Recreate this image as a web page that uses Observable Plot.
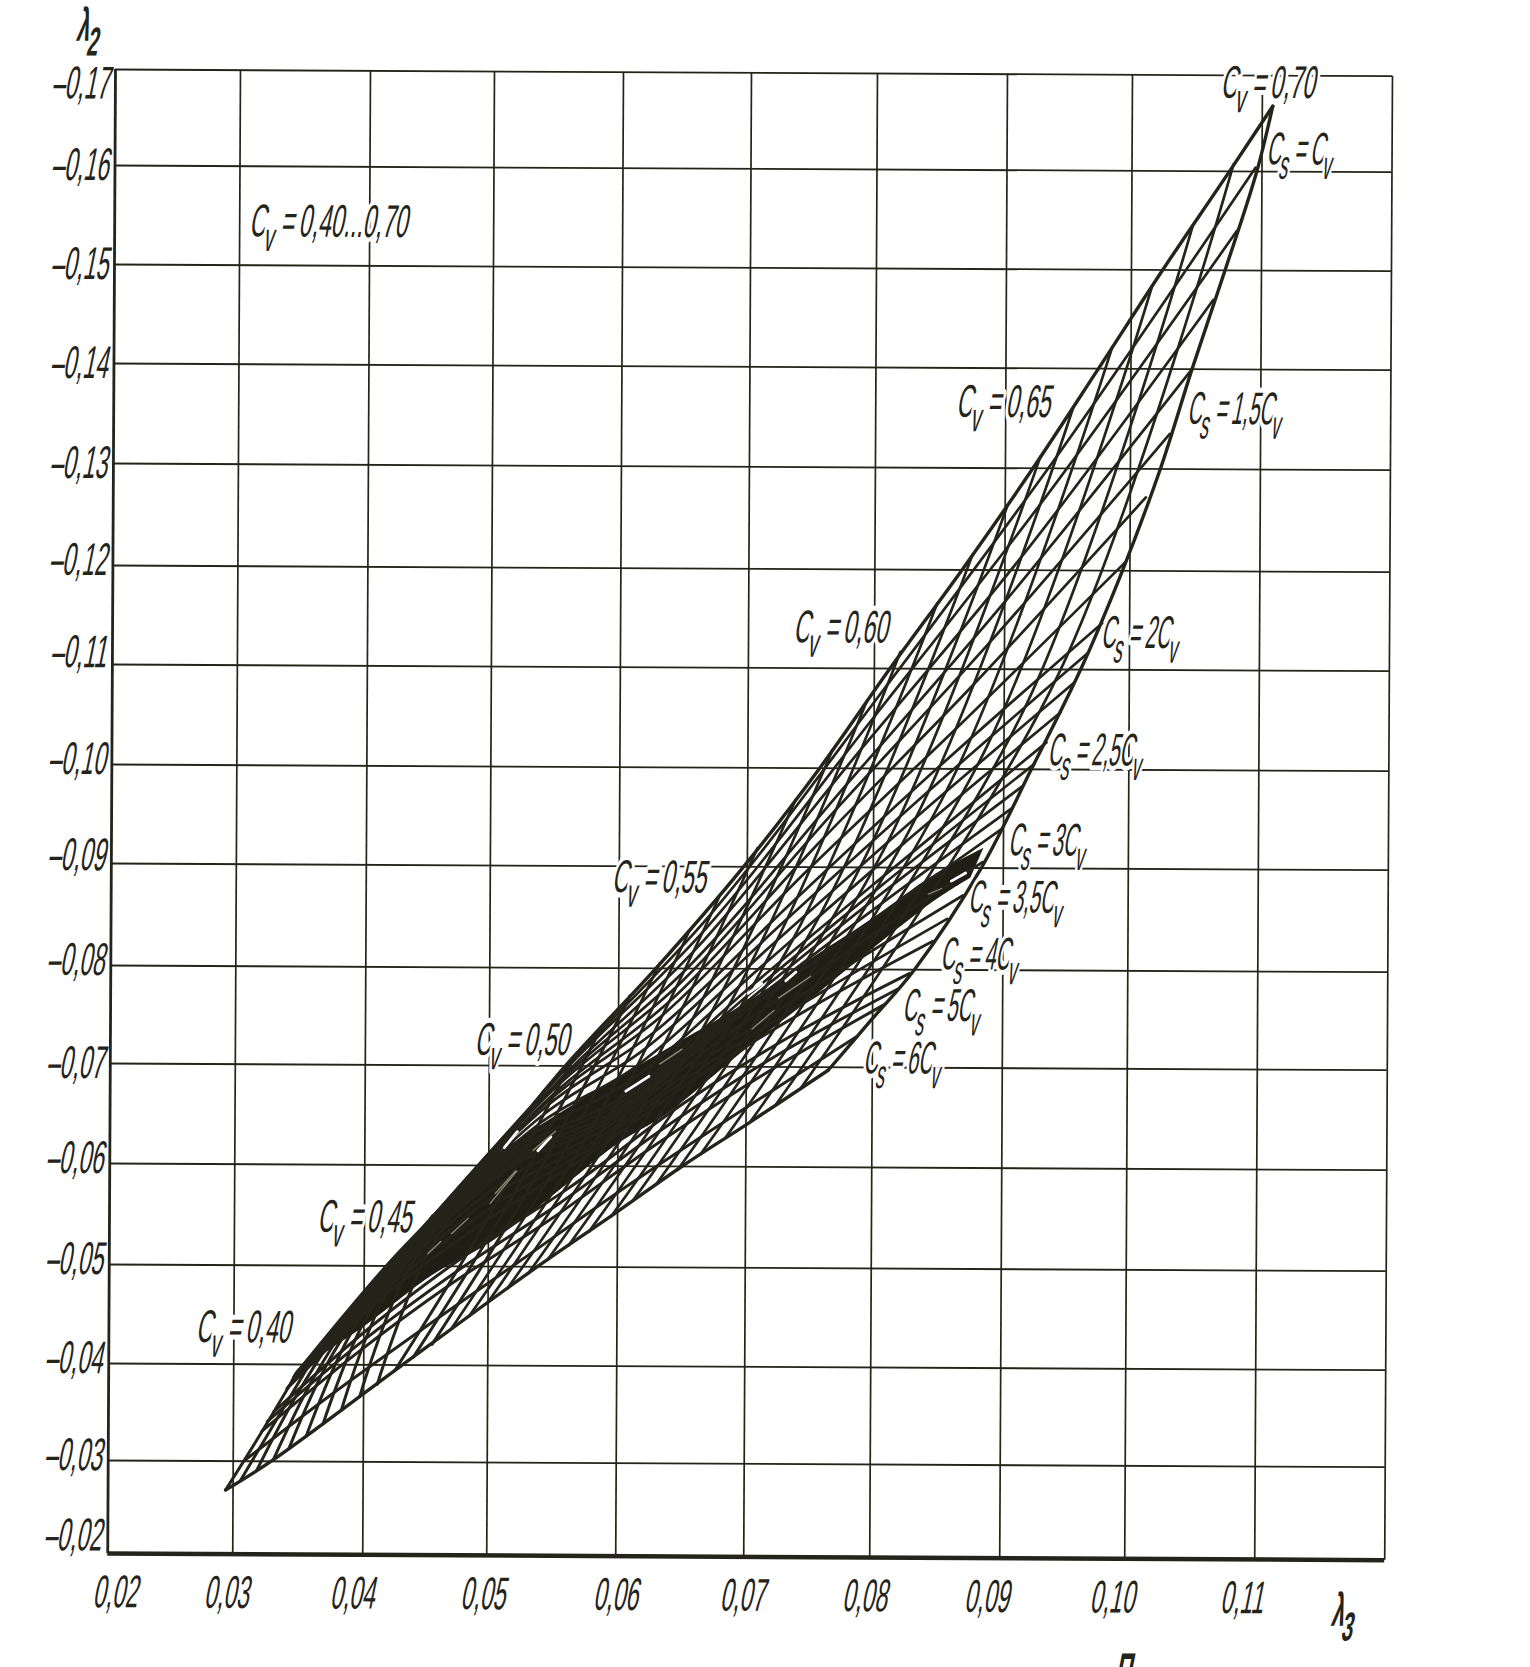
<!DOCTYPE html>
<html><head><meta charset="utf-8">
<script src="https://cdn.jsdelivr.net/npm/d3@7"></script>
<script src="https://cdn.jsdelivr.net/npm/@observablehq/plot@0.6"></script>
<style>
html,body{margin:0;padding:0;background:#fff;overflow:hidden}
svg{display:block;background:transparent;transform:rotate(.3deg);transform-origin:115px 69px}
</style></head><body><div id="chart"></div>
<script>
// grid values and the hand-drawn positions of the gridlines
const lam3Ticks=[.02,.03,.04,.05,.06,.07,.08,.09,.10,.11,.12];
const lam2Ticks=[-.17,-.16,-.15,-.14,-.13,-.12,-.11,-.10,-.09,-.08,-.07,-.06,-.05,-.04,-.03,-.02];
const lam3Pixels=[115,240,370,494,623,751,877,1007,1132,1262,1392];
const lam2Pixels=[69,165,264,363,463,565,664,764,863,965,1063,1163,1264,1363,1460,1553];
const yTickText=["–0,17","–0,16","–0,15","–0,14","–0,13","–0,12","–0,11","–0,10","–0,09","–0,08","–0,07","–0,06","–0,05","–0,04","–0,03","–0,02"];
const yTickAt=[-.1685,-.16,-.15,-.14,-.13,-.1205,-.1112,-.1005,-.0908,-.0805,-.07,-.0605,-.0505,-.0405,-.0305,-.0219];
const xTickText=["0,02","0,03","0,04","0,05","0,06","0,07","0,08","0,09","0,10","0,11"];
const xTickAt=[.0208,.0297,.0394,.0499,.0602,.0701,.0798,.0892,.0992,.1092];

// Cs = Cv : upper edge of the net
const upperEdge=[[.0349,-.0392],[.0418,-.05],[.0495,-.06],[.0559,-.07],[.0629,-.08],[.0697,-.09],[.0757,-.10],[.0812,-.11],[.0867,-.12],[.0922,-.13],[.0974,-.14],[.1024,-.15],[.1075,-.16],[.1108,-.1668]];
// Cs curves, read at Cv = .40 .45 .50 .55 .60 .65 .70
const cs112=[[.0349,-.0392],[.0455,-.0549],[.0563,-.0703],[.0672,-.0854],[.0809,-.1082],[.0941,-.1312],[.1095,-.1604]];
const cs125=[[.0349,-.0392],[.0454,-.0548],[.0561,-.0699],[.0667,-.0838],[.0799,-.1050],[.0930,-.1268],[.1081,-.1540]];
const cs137=[[.0349,-.0392],[.0454,-.0547],[.0559,-.0692],[.0660,-.0819],[.0789,-.1018],[.0917,-.1219],[.1063,-.1470]];
const cs150=[[.0349,-.0391],[.0453,-.0546],[.0556,-.0686],[.0654,-.0801],[.0778,-.0983],[.0904,-.1174],[.1047,-.1400]];
const cs162=[[.0349,-.0391],[.0452,-.0544],[.0553,-.0680],[.0648,-.0785],[.0767,-.0954],[.0890,-.1129],[.1030,-.1335]];
const cs175=[[.0349,-.0391],[.0452,-.0542],[.0551,-.0673],[.0642,-.0769],[.0757,-.0925],[.0876,-.1084],[.1012,-.1272]];
const cs187=[[.0348,-.0391],[.0451,-.0541],[.0548,-.0667],[.0635,-.0753],[.0747,-.0896],[.0862,-.1039],[.0996,-.1208]];
const cs200=[[.0348,-.0391],[.0450,-.0539],[.0546,-.0661],[.0629,-.0736],[.0737,-.0867],[.0850,-.1002],[.0978,-.1147]];
const cs212=[[.0348,-.0390],[.0449,-.0536],[.0542,-.0651],[.0621,-.0718],[.0729,-.0846],[.0841,-.0976],[.0967,-.1117]];
const cs225=[[.0348,-.0390],[.0448,-.0534],[.0539,-.0642],[.0614,-.0700],[.0722,-.0826],[.0832,-.0950],[.0956,-.1087]];
const cs237=[[.0347,-.0389],[.0446,-.0531],[.0535,-.0632],[.0608,-.0684],[.0714,-.0805],[.0822,-.0923],[.0945,-.1057]];
const cs250=[[.0347,-.0388],[.0445,-.0528],[.0531,-.0623],[.0602,-.0668],[.0706,-.0785],[.0813,-.0897],[.0934,-.1027]];
const cs262=[[.0346,-.0387],[.0443,-.0523],[.0528,-.0617],[.0599,-.0661],[.0701,-.0773],[.0806,-.0882],[.0924,-.1005]];
const cs275=[[.0346,-.0386],[.0441,-.0519],[.0526,-.0611],[.0597,-.0655],[.0696,-.0762],[.0799,-.0867],[.0915,-.0983]];
const cs287=[[.0345,-.0384],[.0439,-.0514],[.0523,-.0606],[.0594,-.0649],[.0692,-.0753],[.0793,-.0852],[.0907,-.0961]];
const cs300=[[.0345,-.0383],[.0437,-.0510],[.0521,-.0601],[.0591,-.0643],[.0688,-.0745],[.0787,-.0837],[.0899,-.0940]];
const cs325=[[.0344,-.0381],[.0433,-.0502],[.0516,-.0588],[.0587,-.0635],[.0682,-.0730],[.0776,-.0814],[.0884,-.0906]];
const cs350=[[.0344,-.0380],[.0430,-.0494],[.0511,-.0576],[.0584,-.0627],[.0676,-.0715],[.0766,-.0792],[.0869,-.0873]];
const cs375=[[.0342,-.0377],[.0426,-.0485],[.0504,-.0560],[.0580,-.0619],[.0670,-.0703],[.0760,-.0777],[.0857,-.0850]];
const cs400=[[.0341,-.0375],[.0422,-.0476],[.0498,-.0545],[.0577,-.0611],[.0665,-.0692],[.0754,-.0763],[.0846,-.0828]];
const cs450=[[.0331,-.0351],[.0406,-.0439],[.0484,-.0513],[.0562,-.0578],[.0651,-.0663],[.0737,-.0733],[.0828,-.0796]];
const cs475=[[.0326,-.0341],[.0399,-.0424],[.0477,-.0497],[.0554,-.0562],[.0640,-.0642],[.0727,-.0714],[.0819,-.0780]];
const cs500=[[.0322,-.0331],[.0393,-.0410],[.0470,-.0482],[.0547,-.0546],[.0630,-.0622],[.0717,-.0695],[.0810,-.0765]];
const cs550=[[.0308,-.0300],[.0375,-.0369],[.0449,-.0438],[.0525,-.0506],[.0608,-.0581],[.0689,-.0650],[.0787,-.0731]];
// Cs = 6Cv : lower edge of the net
const lowerEdge=[[.0294,-.0269],[.0329,-.03],[.0431,-.04],[.0538,-.05],[.06,-.0555],[.065,-.06],[.07,-.0642],[.0765,-.0697]];
// Cv = .70 : right-hand edge of the net
const rightEdge=[[.1108,-.1668],[.1096,-.16],[.1072,-.15],[.1047,-.14],[.1023,-.13],[.0994,-.12],[.0961,-.11],[.0922,-.10],[.0883,-.09],[.0832,-.08],[.08,-.075],[.0765,-.0697]];

// Cv curves .40 .41 ... .69 : start on upper edge, knee, end on lower edge
const cvStart3=[.0349,.0369,.0390,.0410,.0433,.0455,.0481,.0504,.0524,.0544,.0565,.0587,.0609,.0632,.0655,.0678,.0708,.0738,.0767,.0794,.0820,.0848,.0875,.0902,.0928,.0954,.0985,.1016,.1047,.1078];
const cvStart2=[-.0392,-.0424,-.0456,-.0487,-.0519,-.0550,-.0582,-.0614,-.0645,-.0677,-.0708,-.0740,-.0772,-.0805,-.0837,-.0870,-.0919,-.0968,-.1018,-.1067,-.1117,-.1166,-.1215,-.1264,-.1312,-.1361,-.1422,-.1484,-.1545,-.1607];
const cvKnee3=[.0319,.0334,.0347,.0361,.0374,.0388,.0402,.0417,.0434,.0452,.0494,.0513,.0532,.0553,.0574,.0593,.0617,.0641,.0665,.0688,.0711,.0736,.0760,.0785,.0808,.0832,.0859,.0887,.0916,.0944];
const cvKnee2=[-.0324,-.0345,-.0365,-.0385,-.0406,-.0427,-.0448,-.0470,-.0492,-.0514,-.0536,-.0557,-.0579,-.0602,-.0625,-.0648,-.0677,-.0707,-.0737,-.0767,-.0797,-.0828,-.0858,-.0889,-.0918,-.0949,-.0986,-.1023,-.1060,-.1097];
const cvEnd3=[.0294,.0306,.0318,.0331,.0343,.0356,.0369,.0383,.0397,.0411,.0425,.0440,.0455,.0470,.0485,.0500,.0515,.0531,.0546,.0562,.0578,.0595,.0612,.0630,.0647,.0665,.0684,.0704,.0724,.0744];
const cvEnd2=[-.0269,-.0280,-.0290,-.0302,-.0314,-.0326,-.0339,-.0353,-.0367,-.0380,-.0394,-.0408,-.0421,-.0436,-.0450,-.0464,-.0478,-.0493,-.0507,-.0521,-.0535,-.0550,-.0566,-.0582,-.0597,-.0613,-.0629,-.0646,-.0663,-.0680];

// the solid black band where the lines run together
const bandTop=[[.0349,-.0392],[.0380,-.0440],[.0418,-.05],[.0470,-.0567],[.0495,-.06],[.0540,-.0640],[.06,-.0688],[.0652,-.0728],[.07,-.0765],[.0750,-.0809],[.08,-.085],[.0846,-.0892],[.0885,-.0920]];
const bandBottom=[[.0346,-.0388],[.0365,-.0407],[.0400,-.0438],[.0457,-.0492],[.0500,-.0522],[.0540,-.0560],[.06,-.0622],[.0638,-.0652],[.07,-.0718],[.0750,-.0768],[.08,-.0820],[.0848,-.0868],[.0875,-.0890]];
// slits of paper left open inside the band, and thin grey streaks
const slitFrom=[[.0606,-.0675],[.0512,-.0618],[.0538,-.0615],[.0860,-.0887],[.0731,-.0788],[.0701,-.0775]];
const slitTo=[[.0624,-.0690],[.0522,-.0634],[.0548,-.0629],[.0871,-.0895],[.0739,-.0797],[.0712,-.0785]];
const streakFrom=[[.0725,-.0770],[.0704,-.0738],[.0632,-.0702],[.0534,-.0615],[.0501,-.0562],[.0505,-.0572],[.0451,-.0512],[.0470,-.0532],[.0842,-.0874]];
const streakTo=[[.0751,-.0793],[.0722,-.0758],[.0650,-.0718],[.0552,-.0635],[.0522,-.0595],[.0521,-.0595],[.0462,-.0525],[.0484,-.0548],[.0853,-.0880]];

// annotations
const labelText=["C_v\u2009=\u20090,70","C_s\u2009=\u2009C_v","C_v\u2009=\u20090,40...0,70","C_v\u2009=\u20090,65","C_s\u2009=\u20091,5C_v","C_v\u2009=\u20090,60","C_s\u2009=\u20092C_v","C_s\u2009=\u20092,5C_v","C_s\u2009=\u20093C_v","C_v\u2009=\u20090,55","C_s\u2009=\u20093,5C_v","C_s\u2009=\u20094C_v","C_s\u2009=\u20095C_v","C_s\u2009=\u20096C_v","C_v\u2009=\u20090,50","C_v\u2009=\u20090,45","C_v\u2009=\u20090,40"];
const labelLam3=[.1106,.1131,.0370,.0900,.1082,.0775,.1010,.0975,.0937,.0633,.0912,.0884,.0855,.0825,.0527,.0402,.0309];
const labelLam2=[-.1692,-.1623,-.1544,-.1366,-.1360,-.1141,-.1137,-.1019,-.0928,-.0889,-.0871,-.0815,-.0763,-.0709,-.0726,-.0548,-.0437];

const csFamily=[cs112,cs125,cs137,cs150,cs162,cs175,cs187,cs200,cs212,cs225,cs237,cs250,cs262,cs275,cs287,cs300,cs325,cs350,cs375,cs400,cs450,cs475,cs500,cs550];
const csRows=csFamily.flatMap((c,i)=>c.map(([a,b])=>({a,b,i,heavy:i>=19})));
const cvRows=cvStart3.flatMap((_,i)=>[
  {a:cvStart3[i],b:cvStart2[i],i,heavy:i<=12},
  {a:cvKnee3[i],b:cvKnee2[i],i,heavy:i<=12},
  {a:cvEnd3[i],b:cvEnd2[i],i,heavy:i<=12}]);
const bandRows=bandTop.map((t,i)=>({x1:t[0],y1:t[1],x2:bandBottom[i][0],y2:bandBottom[i][1]}));
const segRows=(from,to)=>from.map((f,i)=>({x1:f[0],y1:f[1],x2:to[i][0],y2:to[i][1]}));
const labels=labelText.map((t,i)=>({t,a:labelLam3[i],b:labelLam2[i]}));
const ink="#25241a";
const textOpts={fontFamily:"Liberation Sans",fontSize:46,fill:ink};
const widthOf=d=>d.heavy?3:2.7;

const chart=Plot.plot({
  width:1530,height:1667,margin:0,
  x:{type:"linear",domain:lam3Ticks,range:lam3Pixels,axis:null},
  y:{type:"linear",domain:lam2Ticks,range:lam2Pixels,axis:null},
  style:{background:"transparent",overflow:"visible"},
  marks:[
    Plot.ruleX(lam3Ticks,{x:d=>d,y1:()=>-.17,y2:()=>-.02,stroke:ink,strokeWidth:d=>d===.02?2.8:1.7}),
    Plot.ruleY(lam2Ticks,{y:d=>d,x1:()=>.02,x2:()=>.12,stroke:ink,strokeWidth:d=>d===-.02?4.5:1.8}),
    Plot.area(bandRows,{x1:"x1",y1:"y1",x2:"x2",y2:"y2",fill:"#1f1e14",curve:"catmull-rom"}),
    Plot.line(csRows,{x:"a",y:"b",z:"i",stroke:ink,strokeWidth:widthOf,curve:"catmull-rom"}),
    Plot.line(cvRows,{x:"a",y:"b",z:"i",stroke:ink,strokeWidth:widthOf,curve:"catmull-rom"}),
    Plot.line(upperEdge,{x:d=>d[0],y:d=>d[1],stroke:ink,strokeWidth:3.4,curve:"catmull-rom"}),
    Plot.line(lowerEdge,{x:d=>d[0],y:d=>d[1],stroke:ink,strokeWidth:3.4,curve:"catmull-rom"}),
    Plot.line(rightEdge,{x:d=>d[0],y:d=>d[1],stroke:ink,strokeWidth:3.4,curve:"catmull-rom"}),
    Plot.link(segRows(slitFrom,slitTo),{x1:"x1",y1:"y1",x2:"x2",y2:"y2",stroke:"white",strokeWidth:2.8,strokeLinecap:"round"}),
    Plot.link(segRows(streakFrom,streakTo),{x1:"x1",y1:"y1",x2:"x2",y2:"y2",stroke:"#8d8c78",strokeWidth:1.3}),
    Plot.text(yTickText,{x:()=>.0197,y:(d,i)=>yTickAt[i],text:d=>d,textAnchor:"end",...textOpts}),
    Plot.text(xTickText,{x:(d,i)=>xTickAt[i],y:()=>-.0158,text:d=>d,...textOpts}),
    Plot.text(labels,{x:"a",y:"b",text:"t",...textOpts,stroke:"white",strokeWidth:10}),
    Plot.text(["λ_2"],{x:()=>.0180,y:()=>-.1745,text:d=>d,...textOpts,fontWeight:"bold"}),
    Plot.text(["λ_3"],{x:()=>.1170,y:()=>-.0145,text:d=>d,...textOpts,fontWeight:"bold"}),
    Plot.text(["П"],{x:()=>.1001,y:()=>-.008,text:d=>d,...textOpts,fontWeight:"bold"})
  ]
});
document.getElementById("chart").append(chart);

// drafting-style lettering: narrow and slanted, with real subscripts
chart.querySelectorAll("text").forEach(t=>{
  const raw=t.textContent||"";
  const squeeze=(raw.match(/C_/g)||[]).length>1?.44:.5;
  const tr=t.getAttribute("transform")||"";
  t.setAttribute("transform",tr+` skewX(-11) scale(${squeeze},1)`);
  const parts=raw.split(/_(\w)/);
  if(parts.length>1){
    t.textContent="";
    parts.forEach((p,i)=>{
      if(!p)return;
      const s=document.createElementNS("http://www.w3.org/2000/svg","tspan");
      s.textContent=p;
      if(i%2){s.setAttribute("dy",".36em");s.setAttribute("font-size","88%");}
      else if(i>0){s.setAttribute("dy","-.317em");}
      t.append(s);
    });
  }
});
</script></body></html>
